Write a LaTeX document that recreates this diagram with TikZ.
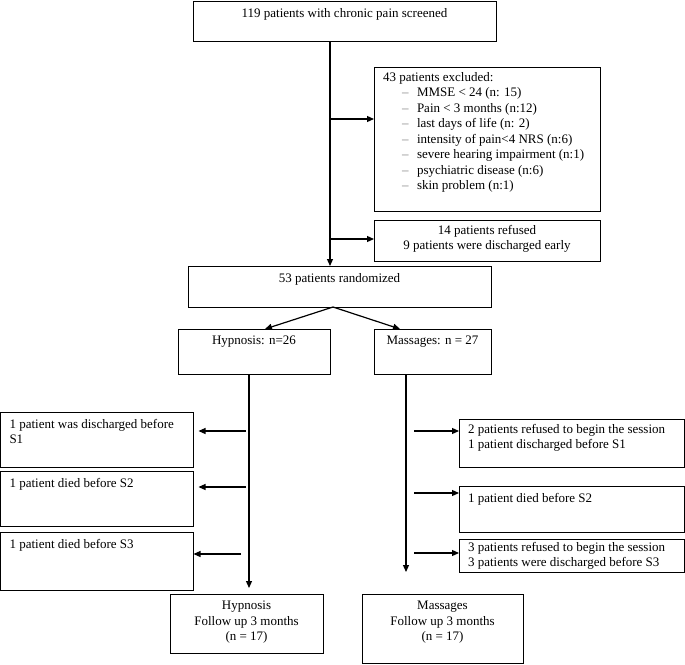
\documentclass[tikz,border=0pt]{standalone}
\usepackage{fontspec}
\setmainfont{Liberation Serif}
\usetikzlibrary{arrows.meta,positioning}
\tikzset{
    %Define standard arrow tip
    >={Triangle[length=7pt,width=6pt]},
    %Define style for boxes
    flowbox/.style={
           rectangle,
           draw=black, line width=1pt,
           inner xsep=9pt, inner ysep=7pt,
           outer sep=0pt,
           anchor=north west,
           font=\fontsize{13}{15.5}\selectfont},
    % Define arrow style
    pil/.style={
           ->,
           line width=1.2pt}
}
% box text, top aligned: width, height, text
\newcommand{\ctext}[3]{\parbox[c][\dimexpr#2-14pt\relax][t]{\dimexpr#1-18pt\relax}{\centering #3}}
\newcommand{\ltext}[3]{\parbox[c][\dimexpr#2-14pt\relax][t]{\dimexpr#1-18pt\relax}{\raggedright #3}}
\newcommand{\exitem}[1]{\\\hspace*{19pt}{\color{gray}\textendash}\hspace*{8.5pt}#1}

\begin{document}
\begin{tikzpicture}[x=1pt,y=-1pt]
\useasboundingbox (0,0) rectangle (685,664);
\node[flowbox] (screened) at (193,1) {\ctext{303pt}{40pt}{119 patients with chronic pain screened}};
\node[flowbox, inner ysep=5pt] (excluded) at (374,67) {\ltext{226pt}{148pt}{43 patients excluded:
  \exitem{MMSE < 24 (n: 15)}
  \exitem{Pain < 3 months (n:12)}
  \exitem{last days of life (n: 2)}
  \exitem{intensity of pain<4 NRS (n:6)}
  \exitem{severe hearing impairment (n:1)}
  \exitem{psychiatric disease (n:6)}
  \exitem{skin problem (n:1)}}};
\node[flowbox, inner ysep=5pt] (refused) at (374,220) {\ctext{226pt}{45pt}{14 patients refused\\9 patients were discharged early}};
\node[flowbox] (random) at (188,266) {\ctext{303pt}{41pt}{53 patients randomized}};
\node[flowbox] (hyp) at (178,329) {\ctext{152pt}{45pt}{Hypnosis: n=26}};
\node[flowbox] (mas) at (374,329) {\ctext{117pt}{45pt}{Massages: n = 27}};
% hypnosis arm
\node[flowbox] (hout1) at (0.5,412) {\ltext{193pt}{55pt}{1 patient was discharged before\\S1}};
\node[flowbox] (hout2) at (0.5,471) {\ltext{193pt}{55pt}{1 patient died before S2}};
\node[flowbox] (hout3) at (0.5,532) {\ltext{193pt}{58pt}{1 patient died before S3}};
\node[flowbox] (hfu) at (170,594) {\ctext{153pt}{59pt}{Hypnosis\\Follow up 3 months\\(n = 17)}};
% massages arm
\node[flowbox, inner ysep=5pt] (mout1) at (459,419) {\ltext{225pt}{52pt}{2 patients refused to begin the session\\1 patient discharged before S1}};
\node[flowbox] (mout2) at (459,486) {\ltext{225pt}{46pt}{1 patient died before S2}};
\node[flowbox, inner ysep=3pt] (mout3) at (459,539) {\ltext{225pt}{41pt}{3 patients refused to begin the session\\3 patients were discharged before S3}};
\node[flowbox] (mfu) at (362,594) {\ctext{161pt}{69pt}{Massages\\Follow up 3 months\\(n = 17)}};

\coordinate (t1) at (330,119);
\coordinate (t2) at (330,239);
\coordinate (h1) at (246,431);
\coordinate (h2) at (246,487);
\coordinate (h3) at (241,554);
\coordinate (m1) at (414,431);
\coordinate (m2) at (414,493);
\coordinate (m3) at (414,553);

\draw[pil] ([xshift=-14.5pt]screened.south) -- ([xshift=-14.5pt]screened.south |- random.north);
\draw[pil] (t1) -- (t1 -| excluded.west);
\draw[pil] (t2) -- (t2 -| refused.west);
\draw[pil] ([xshift=-6.5pt]random.south) -- ([xshift=11pt]hyp.north);
\draw[pil] ([xshift=-6.5pt]random.south) -- ([xshift=-32.5pt]mas.north);
\draw[pil, shorten >=6pt] ([xshift=-5pt]hyp.south) -- ([xshift=-5pt]hyp.south |- hfu.north);
\draw[pil, shorten >=22pt] ([xshift=-26.5pt]mas.south) -- ([xshift=-26.5pt]mas.south |- mfu.north);
\draw[pil, shorten >=5pt] (h1) -- (h1 -| hout1.east);
\draw[pil, shorten >=5pt] (h2) -- (h2 -| hout2.east);
\draw[pil] (h3) -- (h3 -| hout3.east);
\draw[pil] (m1) -- (m1 -| mout1.west);
\draw[pil] (m2) -- (m2 -| mout2.west);
\draw[pil] (m3) -- (m3 -| mout3.west);
\end{tikzpicture}
\end{document}
